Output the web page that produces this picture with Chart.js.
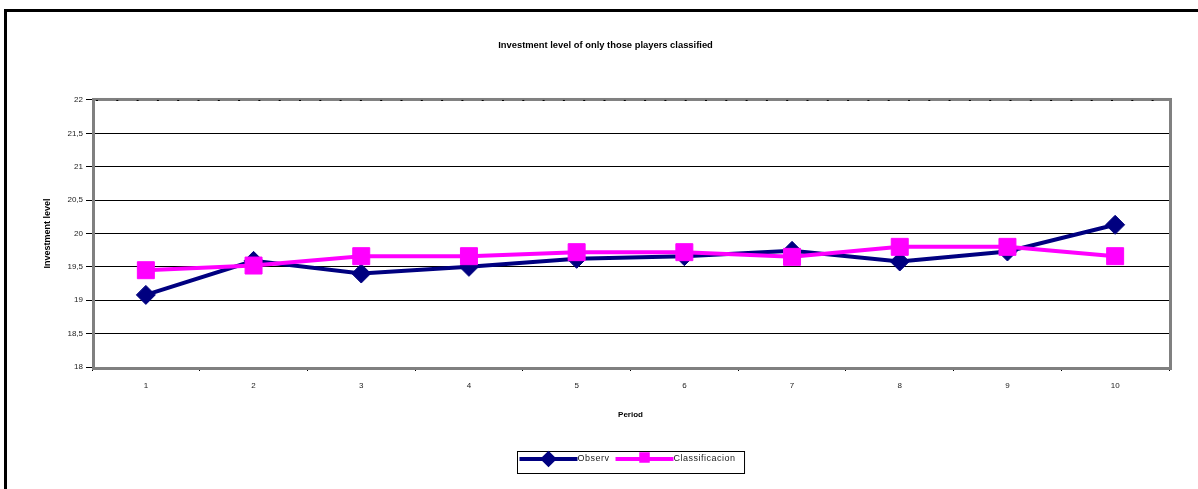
<!DOCTYPE html>
<html>
<head>
<meta charset="utf-8">
<title>Investment level of only those players classified</title>
<script src="https://cdn.jsdelivr.net/npm/chart.js@4/dist/chart.umd.min.js"></script>
<style>
  html, body { margin: 0; padding: 0; background: #fff; overflow: hidden; }
  #wrap { position: relative; width: 1198px; height: 489px; overflow: hidden; }
  #frame { position: absolute; left: 4px; top: 9px; width: 1400px; height: 700px;
           border-left: 3px solid #000; border-top: 3px solid #000; pointer-events: none; }
  canvas { position: absolute; left: 0; top: 0; }
</style>
</head>
<body>
<div id="wrap">
  <canvas id="chart" width="1198" height="489"></canvas>
  <div id="frame"></div>
</div>
<script>
// Periods on the x axis
const periods = ['1', '2', '3', '4', '5', '6', '7', '8', '9', '10'];

// Average investment per period
const observ = [19.08, 19.59, 19.40, 19.50, 19.62, 19.66, 19.74, 19.58, 19.73, 20.13];
const classificacion = [19.45, 19.52, 19.66, 19.66, 19.72, 19.72, 19.65, 19.80, 19.80, 19.66];

// Series names
const seriesNames = ['Observ', 'Classificacion'];

// Y axis range and step
const yMin = 18;
const yMax = 22;
const yStep = 0.5;

const FONT = '"Liberation Sans", Arial, sans-serif';

// Grey plot-area frame with the dotted top rule
const plotFrame = {
  id: 'plotFrame',
  beforeDatasetsDraw(chart) {
    const { ctx, chartArea: a } = chart;
    ctx.save();
    ctx.strokeStyle = '#808080';
    ctx.lineWidth = 3;
    ctx.strokeRect(a.left + 1.5, a.top - 0.5, a.right - a.left, a.bottom - a.top + 2);
    ctx.strokeStyle = '#000';
    ctx.lineWidth = 1;
    ctx.setLineDash([2, 18.3]);
    ctx.beginPath();
    ctx.moveTo(a.left + 4, a.top + 0.5);
    ctx.lineTo(a.right - 2, a.top + 0.5);
    ctx.stroke();
    ctx.restore();
  }
};

// Boxed legend under the axis: line sample with marker, then the name
const lineLegend = {
  id: 'lineLegend',
  afterDraw(chart) {
    const { ctx, chartArea: a } = chart;
    const sets = chart.data.datasets;
    ctx.save();
    ctx.font = '9px ' + FONT;
    ctx.letterSpacing = '0.5px';
    const lineLen = 58, gap = 6, padL = 2, padR = 9;
    let w = padL + padR;
    sets.forEach((d, i) => {
      w += lineLen + ctx.measureText(d.label).width + (i < sets.length - 1 ? gap : 0);
    });
    const h = 22;
    const x0 = Math.round((a.left + a.right) / 2 - w / 2) + 0.5;
    const y0 = 451.5;
    ctx.strokeStyle = '#000';
    ctx.lineWidth = 1;
    ctx.strokeRect(x0, y0, w, h);
    let x = x0 + padL;
    const ly = y0 + 7.5;
    sets.forEach((d) => {
      ctx.strokeStyle = d.borderColor;
      ctx.fillStyle = d.backgroundColor;
      ctx.lineWidth = 4;
      ctx.beginPath();
      ctx.moveTo(x, ly);
      ctx.lineTo(x + lineLen, ly);
      ctx.stroke();
      const mx = x + lineLen / 2;
      if (d.pointStyle === 'rectRot') {
        Chart.helpers.drawPoint(ctx, { pointStyle: 'rectRot', radius: 5.5, borderWidth: 1 }, mx, ly);
        ctx.fill();
      } else {
        Chart.helpers.drawPoint(ctx, { pointStyle: 'rect', radius: 4.6, borderWidth: 1 }, mx, ly - 1.5);
        ctx.fill();
      }
      x += lineLen;
      ctx.fillStyle = '#222';
      ctx.textAlign = 'left';
      ctx.textBaseline = 'middle';
      ctx.fillText(d.label, x, ly);
      x += ctx.measureText(d.label).width + gap;
    });
    ctx.restore();
  }
};

new Chart(document.getElementById('chart'), {
  type: 'line',
  data: {
    labels: periods,
    datasets: [
      {
        label: seriesNames[0],
        data: observ,
        borderColor: '#000080',
        backgroundColor: '#000080',
        borderWidth: 4,
        pointStyle: 'rectRot',
        pointRadius: 9.5,
        pointBorderWidth: 1,
        tension: 0,
        order: 1
      },
      {
        label: seriesNames[1],
        data: classificacion,
        borderColor: '#FF00FF',
        backgroundColor: '#FF00FF',
        borderWidth: 4,
        pointStyle: 'rect',
        pointRadius: 12,
        pointBorderWidth: 1,
        tension: 0,
        order: 0
      }
    ]
  },
  options: {
    responsive: false,
    animation: false,
    events: [],
    layout: { padding: { left: 21, right: 8, top: 0, bottom: 0 } },
    plugins: {
      legend: { display: false },
      tooltip: { enabled: false },
      title: {
        display: true,
        text: 'Investment level of only those players classified',
        color: '#000',
        font: { family: FONT, size: 9.4, weight: 'bold' },
        padding: { top: 40, bottom: 48.7 }
      }
    },
    scales: {
      x: {
        type: 'category',
        offset: true,
        afterFit(scale) { scale.height = 122; },
        grid: {
          offset: true,
          drawOnChartArea: false,
          drawTicks: true,
          tickLength: 4,
          color: '#000',
          tickColor: '#000'
        },
        border: { display: true, color: '#000', width: 1 },
        ticks: {
          color: '#222',
          font: { family: FONT, size: 8 },
          padding: 10,
          maxRotation: 0
        },
        title: {
          display: true,
          text: 'Period',
          color: '#000',
          font: { family: FONT, size: 8, weight: 'bold' },
          padding: { top: 4, bottom: 69 }
        }
      },
      y: {
        min: yMin,
        max: yMax,
        afterFit(scale) { scale.width = 71; },
        grid: {
          color: (c) => (c.tick && c.tick.value === yMax ? 'rgba(0,0,0,0)' : '#000'),
          tickColor: '#000',
          lineWidth: 1,
          drawTicks: true,
          tickLength: 6
        },
        border: { display: true, color: '#000', width: 1 },
        ticks: {
          stepSize: yStep,
          color: '#222',
          font: { family: FONT, size: 8 },
          padding: 3,
          callback: (v) => String(v).replace('.', ',')
        },
        title: {
          display: true,
          text: 'Investment level',
          color: '#000',
          font: { family: FONT, size: 9, weight: 'bold' },
          padding: { top: 21, bottom: 0 }
        }
      },
      // empty margin on the right of the plot
      yRight: {
        position: 'right',
        display: true,
        afterFit(scale) { scale.width = 21; },
        grid: { drawOnChartArea: false, drawTicks: false },
        border: { display: false },
        ticks: { display: false }
      }
    }
  },
  plugins: [plotFrame, lineLegend]
});
</script>
</body>
</html>
